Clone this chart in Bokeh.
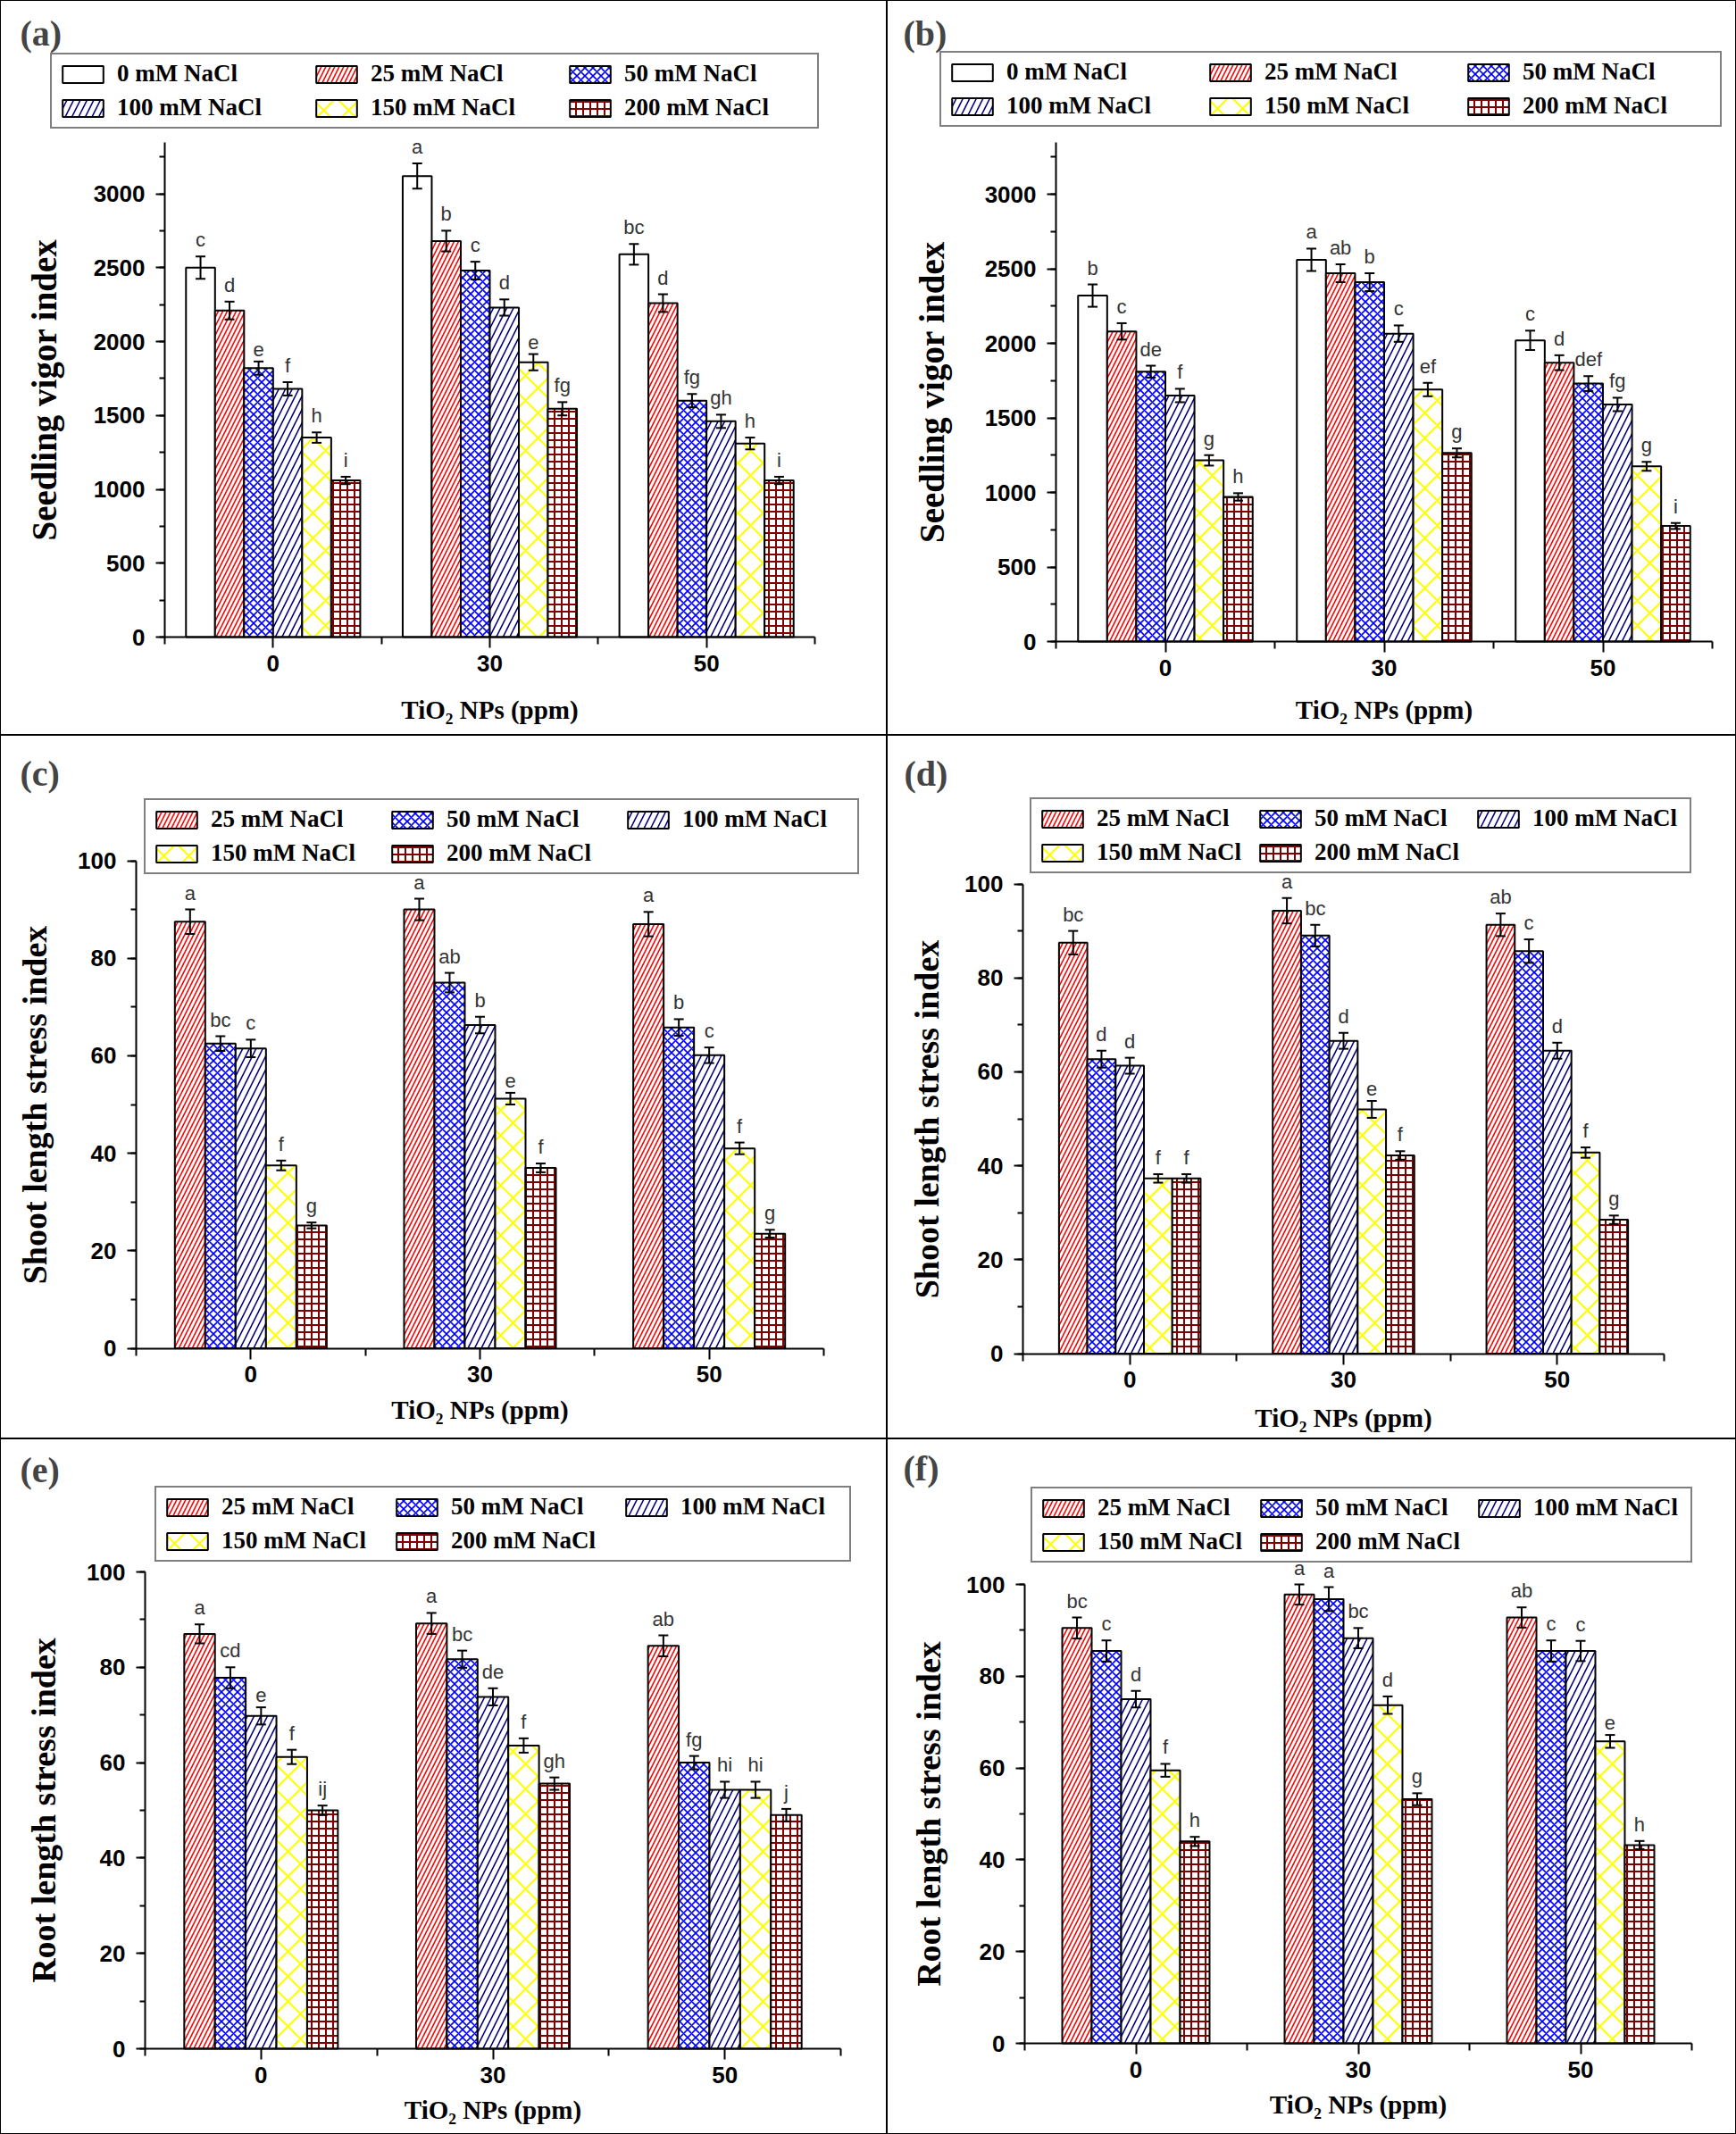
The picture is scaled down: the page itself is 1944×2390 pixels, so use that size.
from bokeh.plotting import figure
from bokeh.models import (ColumnDataSource, Range1d, FixedTicker, SingleIntervalTicker,
                          Whisker, TeeHead, Legend, LegendItem, Label)
from bokeh.layouts import gridplot
from bokeh.embed import file_html
from bokeh.resources import INLINE
from bokeh.core.properties import value

# ---------------- data ----------------
doses = ["0", "30", "50"]          # TiO2 NPs (ppm)
salts6 = ["0 mM NaCl", "25 mM NaCl", "50 mM NaCl", "100 mM NaCl", "150 mM NaCl", "200 mM NaCl"]
salts5 = salts6[1:]

# (a) Seedling vigor index  rows = doses, cols = salts6
a_vals = [[2500, 2210, 1820, 1680, 1350, 1060],
          [3120, 2680, 2480, 2230, 1860, 1545],
          [2590, 2260, 1600, 1460, 1310, 1060]]
a_errs = [[75, 60, 45, 45, 35, 25],
          [85, 70, 60, 55, 55, 45],
          [70, 60, 45, 45, 40, 25]]
a_lets = [["c", "d", "e", "f", "h", "i"],
          ["a", "b", "c", "d", "e", "fg"],
          ["bc", "d", "fg", "gh", "h", "i"]]

# (b) Seedling vigor index
b_vals = [[2320, 2080, 1810, 1650, 1215, 970],
          [2560, 2470, 2410, 2065, 1690, 1265],
          [2020, 1870, 1730, 1590, 1175, 775]]
b_errs = [[75, 55, 40, 45, 35, 25],
          [75, 60, 60, 55, 45, 30],
          [65, 50, 50, 45, 30, 20]]
b_lets = [["b", "c", "de", "f", "g", "h"],
          ["a", "ab", "b", "c", "ef", "g"],
          ["c", "d", "def", "fg", "g", "i"]]

# (c) Shoot length stress index  cols = salts5
c_vals = [[87.5, 62.5, 61.5, 37.5, 25.2],
          [90.0, 75.0, 66.3, 51.2, 37.0],
          [87.0, 65.8, 60.1, 41.0, 23.5]]
c_errs = [[2.5, 1.5, 1.8, 1.0, 0.6],
          [2.2, 2.0, 1.7, 1.2, 0.9],
          [2.5, 1.7, 1.6, 1.2, 0.8]]
c_lets = [["a", "bc", "c", "f", "g"],
          ["a", "ab", "b", "e", "f"],
          ["a", "b", "c", "f", "g"]]

# (d) Shoot length stress index
d_vals = [[87.5, 62.7, 61.3, 37.3, 37.3],
          [94.3, 89.0, 66.6, 52.0, 42.2],
          [91.3, 85.7, 64.5, 42.8, 28.5]]
d_errs = [[2.5, 1.8, 1.7, 0.9, 0.9],
          [2.7, 2.3, 1.7, 1.8, 0.9],
          [2.4, 2.5, 1.7, 1.1, 0.9]]
d_lets = [["bc", "d", "d", "f", "f"],
          ["a", "bc", "d", "e", "f"],
          ["ab", "c", "d", "f", "g"]]

# (e) Root length stress index
e_vals = [[87.0, 77.8, 69.8, 61.2, 50.0],
          [89.2, 81.7, 73.8, 63.6, 55.6],
          [84.5, 60.0, 54.3, 54.3, 49.0]]
e_errs = [[2.0, 2.2, 1.8, 1.5, 1.0],
          [2.2, 1.8, 1.8, 1.5, 1.3],
          [2.2, 1.4, 1.7, 1.7, 1.3]]
e_lets = [["a", "cd", "e", "f", "ij"],
          ["a", "bc", "de", "f", "gh"],
          ["ab", "fg", "hi", "hi", "j"]]

# (f) Root length stress index
f_vals = [[90.5, 85.5, 75.0, 59.5, 44.0],
          [97.8, 96.8, 88.3, 73.7, 53.2],
          [92.8, 85.5, 85.5, 65.8, 43.2]]
f_errs = [[2.3, 2.3, 1.8, 1.4, 1.0],
          [2.2, 2.6, 2.2, 1.9, 1.3],
          [2.2, 2.3, 2.2, 1.4, 0.9]]
f_lets = [["bc", "c", "d", "f", "h"],
          ["a", "a", "bc", "d", "g"],
          ["ab", "c", "c", "e", "h"]]

# ---------------- styles ----------------
STY = {
    "0 mM NaCl":   dict(hatch_pattern=None),
    "25 mM NaCl":  dict(hatch_pattern="/", hatch_color="#ff0000", hatch_scale=10, hatch_weight=1.6),
    "50 mM NaCl":  dict(hatch_pattern="x", hatch_color="#0000ff", hatch_scale=9, hatch_weight=1.6),
    "100 mM NaCl": dict(hatch_pattern="/", hatch_color="#000080", hatch_scale=15, hatch_weight=1.6),
    "150 mM NaCl": dict(hatch_pattern="x", hatch_color="#ffff00", hatch_scale=28, hatch_weight=2),
    "200 mM NaCl": dict(hatch_pattern="+", hatch_color="#800000", hatch_scale=8, hatch_weight=2),
}

SERIF = "Liberation Serif"
SANS = "Liberation Sans"
LEG_H = 82  # approx legend box height in px


def make_panel(tag, ylabel, vals, errs, lets, series, L, tick_int, shadow):
    W, H = L["w"], L["h"]
    left, right, axy = L["left"], L["right"], L["axy"]
    rv, rpx = L["ref"]
    ppu = (right - left) / 3.0
    pyu = (axy - rpx) / rv
    p = figure(width=W, height=H,
               x_range=Range1d(-0.5 - left / ppu, 2.5 + (W - right) / ppu),
               y_range=Range1d(-(H - axy) / pyu, axy / pyu),
               output_backend="svg", toolbar_location=None,
               min_border_left=0, min_border_right=0,
               min_border_top=0, min_border_bottom=0)
    p.border_fill_color = None
    p.background_fill_color = None
    p.outline_line_color = None
    p.grid.visible = False
    p.styles = {"box-shadow": shadow}

    n = len(series)
    bw = L["bw"]
    items = []
    for i, s in enumerate(series):
        xs = [g + (i - (n - 1) / 2) * bw for g in range(3)]
        ys = [vals[g][i] for g in range(3)]
        es = [errs[g][i] for g in range(3)]
        src = ColumnDataSource(dict(x=xs, top=ys,
                                    upper=[y + e for y, e in zip(ys, es)],
                                    lower=[y - e for y, e in zip(ys, es)],
                                    lab=[lets[g][i] for g in range(3)]))
        r = p.vbar(x="x", top="top", width=bw, source=src, fill_color="white",
                   line_color="black", line_width=2, **STY[s])
        items.append(LegendItem(label=s, renderers=[r]))
        wk = Whisker(source=src, base="x", upper="upper", lower="lower",
                     line_color="black", line_width=2, level="overlay",
                     upper_head=TeeHead(size=11, line_width=2, line_color="black"),
                     lower_head=TeeHead(size=11, line_width=2, line_color="black"))
        p.add_layout(wk)
        p.text(x="x", y="upper", text="lab", source=src, text_align="center",
               text_baseline="bottom", y_offset=-6, text_font=value(SANS),
               text_font_size="22px", text_color="#333333")

    lx, ly = L["leg"]
    leg = Legend(items=items, location=(lx, H - ly - LEG_H), orientation="horizontal",
                 ncols=3, glyph_width=57, glyph_height=24, label_standoff=10,
                 label_width=L["lw"], spacing=7, padding=6, margin=0,
                 border_line_color="black", border_line_width=2,
                 background_fill_color="white", background_fill_alpha=1,
                 label_text_font=SERIF, label_text_font_style="bold",
                 label_text_font_size="27px", label_text_color="black")
    p.add_layout(leg)

    tx, ty = L["tag"]
    p.add_layout(Label(x=tx, y=H - ty, x_units="screen", y_units="screen",
                       text=tag, text_baseline="top", text_align="left",
                       text_font=SERIF, text_font_style="bold", text_font_size="40px"))

    xa = p.xaxis[0]
    xa.fixed_location = 0
    xa.bounds = (-0.5, 2.5)
    xa.ticker = FixedTicker(ticks=[0, 1, 2], minor_ticks=[-0.5, 0.5, 1.5, 2.5])
    xa.major_label_overrides = {i: d for i, d in enumerate(doses)}
    xa.axis_label = "TiO\u2082 NPs (ppm)"
    xa.major_tick_out, xa.major_tick_in = 12, 0
    xa.minor_tick_out, xa.minor_tick_in = 8, 0
    xa.major_label_standoff = 8
    xa.axis_label_standoff = L["xso"]
    xa.axis_label_text_font_size = "29px"

    ya = p.yaxis[0]
    ya.fixed_location = -0.5
    ya.ticker = SingleIntervalTicker(interval=tick_int, num_minor_ticks=2)
    ya.bounds = (0, L["top"])
    ya.axis_label = ylabel
    ya.major_tick_out, ya.major_tick_in = 10, 0
    ya.minor_tick_out, ya.minor_tick_in = 6, 0
    ya.major_label_standoff = 12
    ya.axis_label_standoff = L["yso"]
    ya.axis_label_text_font_size = L["yfs"]

    for ax in (xa, ya):
        ax.axis_line_width = 2
        ax.major_tick_line_width = 2
        ax.minor_tick_line_width = 2
        ax.axis_line_color = "black"
        ax.major_tick_line_color = "black"
        ax.minor_tick_line_color = "black"
        ax.major_label_text_font = SANS
        ax.major_label_text_font_style = "bold"
        ax.major_label_text_font_size = "26px"
        ax.major_label_text_color = "black"
        ax.axis_label_text_font = SERIF
        ax.axis_label_text_font_style = "bold"
        ax.axis_label_text_color = "black"
    return p


LA = dict(w=993, h=823, left=184, right=912, axy=713, ref=(3000, 216.5), top=3350,
          leg=(56, 62), lw=210, tag=(22, 14), yso=31, xso=24, bw=0.134, yfs="39px")
LB = dict(w=951, h=823, left=189, right=924, axy=718, ref=(3000, 217), top=3350,
          leg=(59, 60), lw=215, tag=(18, 14), yso=35, xso=19, bw=0.133, yfs="39px")
LC = dict(w=993, h=788, left=152, right=922, axy=686.5, ref=(100, 140.5), top=100,
          leg=(161, 74), lw=190, tag=(22, 20), yso=24, xso=11, bw=0.1325, yfs="38px")
LD = dict(w=951, h=788, left=152, right=870, axy=692.5, ref=(100, 166.5), top=100,
          leg=(160, 73), lw=170, tag=(19, 20), yso=18, xso=14, bw=0.1325, yfs="38px")
LE = dict(w=993, h=779, left=162, right=941, axy=683, ref=(100, 149), top=100,
          leg=(173, 56), lw=183, tag=(22, 12), yso=24, xso=11, bw=0.1325, yfs="38px")
LF = dict(w=951, h=779, left=154, right=901, axy=677, ref=(100, 163), top=100,
          leg=(161, 57), lw=170, tag=(18, 10), yso=18, xso=11, bw=0.1325, yfs="38px")

base = "inset 0 0 0 1px #000"
sh_tl = base + ", inset 1px 1px 0 0 #000"
sh_tr = base + ", inset -1px 1px 0 0 #000"
sh_ml = base + ", inset 1px 0 0 0 #000"
sh_mr = base + ", inset -1px 0 0 0 #000"
sh_bl = base + ", inset 1px -1px 0 0 #000"
sh_br = base + ", inset -1px -1px 0 0 #000"

pa = make_panel("(a)", "Seedling vigor index", a_vals, a_errs, a_lets, salts6, LA, 500, sh_tl)
pb = make_panel("(b)", "Seedling vigor index", b_vals, b_errs, b_lets, salts6, LB, 500, sh_tr)
pc = make_panel("(c)", "Shoot length stress index", c_vals, c_errs, c_lets, salts5, LC, 20, sh_ml)
pd = make_panel("(d)", "Shoot length stress index", d_vals, d_errs, d_lets, salts5, LD, 20, sh_mr)
pe = make_panel("(e)", "Root length stress index", e_vals, e_errs, e_lets, salts5, LE, 20, sh_bl)
pf = make_panel("(f)", "Root length stress index", f_vals, f_errs, f_lets, salts5, LF, 20, sh_br)

grid = gridplot([[pa, pb], [pc, pd], [pe, pf]], toolbar_location=None)

open("out.html", "w").write(file_html(grid, INLINE))
